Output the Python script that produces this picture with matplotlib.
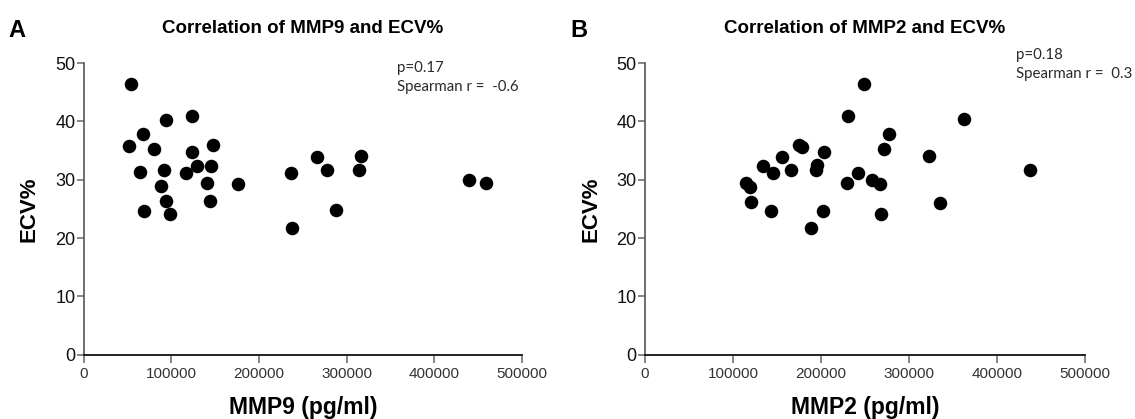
import matplotlib
matplotlib.use("Agg")
import matplotlib.pyplot as plt

plt.rcParams['font.family'] = ['Liberation Sans', 'DejaVu Sans']

# ---- data -------------------------------------------------------------
mmp9 = [53700, 93600, 124000, 68100, 51800, 80300, 124000, 147200,
        64700, 91700, 117100, 129300, 144900, 88300, 140400, 176100,
        94000, 143800, 69200, 98200, 236500, 238000, 265800, 277900,
        287800, 316300, 313700, 439800, 458500]
ecv_mmp9 = [46.5, 40.3, 41.0, 37.9, 35.8, 35.3, 34.8, 36.0,
            31.3, 31.6, 31.2, 32.4, 32.3, 28.9, 29.4, 29.3,
            26.3, 26.3, 24.6, 24.2, 31.1, 21.7, 33.9, 31.6,
            24.8, 34.0, 31.6, 29.9, 29.4]

mmp2 = [248900, 231000, 277600, 271900, 174700, 178800, 203400, 156000,
        134400, 145800, 165900, 195100, 194300, 241700, 229900, 258300,
        267000, 114800, 119300, 120500, 143500, 202300, 267800, 189000,
        323100, 335200, 362800, 437500]
ecv_mmp2 = [46.5, 41.0, 37.9, 35.3, 36.0, 35.7, 34.8, 33.9,
            32.3, 31.1, 31.6, 32.5, 31.6, 31.2, 29.4, 30.0,
            29.2, 29.5, 28.8, 26.2, 24.6, 24.7, 24.2, 21.7,
            34.0, 26.1, 40.4, 31.7]

x_ticks = [0, 100000, 200000, 300000, 400000, 500000]
y_ticks = [0, 10, 20, 30, 40, 50]

panels = [
    dict(letter="A", title="Correlation of MMP9 and ECV%", xlabel="MMP9 (pg/ml)",
         x=mmp9, y=ecv_mmp9, p="p=0.17", r="Spearman r =  -0.6"),
    dict(letter="B", title="Correlation of MMP2 and ECV%", xlabel="MMP2 (pg/ml)",
         x=mmp2, y=ecv_mmp2, p="p=0.18", r="Spearman r =  0.3"),
]

# ---- layout (pixels) -------------------------------------------------------
W, H = 1135, 419
fig = plt.figure(figsize=(W / 100, H / 100), dpi=100)

y_bottom_px, y_top_px = 354.7, 63.2
axes_x_px = [(83.6, 522.0), (645.0, 1085.0)]
letter_x_px = [8, 570]
note_px = [(397, 61), (1016, 48)]

for spec, (x0, x1), lx, (nx, ny) in zip(panels, axes_x_px, letter_x_px, note_px):
    ax = fig.add_axes([x0 / W, (H - y_bottom_px) / H,
                       (x1 - x0) / W, (y_bottom_px - y_top_px) / H])
    ax.scatter(spec["x"], spec["y"], s=95, color="black", linewidths=0,
               clip_on=False, zorder=3)
    ax.set_xlim(0, 500000)
    ax.set_ylim(0, 50)
    ax.set_xticks(x_ticks)
    ax.set_xticklabels([str(t) for t in x_ticks])
    ax.set_yticks(y_ticks)

    for side in ("top", "right"):
        ax.spines[side].set_visible(False)
    ax.spines["left"].set_color("#555555")
    ax.spines["left"].set_linewidth(1.2)
    ax.spines["bottom"].set_color("#111111")
    ax.spines["bottom"].set_linewidth(1.3)

    ax.tick_params(axis="x", length=6, width=1.1, color="#666666",
                   labelsize=11, labelcolor="#333333", pad=3)
    ax.tick_params(axis="y", length=5, width=1.1, color="#666666",
                   labelsize=13, labelcolor="#111111", pad=1)

    ax.set_xlabel(spec["xlabel"], fontsize=16.5, fontweight="bold")
    ax.xaxis.set_label_coords(0.5, -0.14)
    ax.set_ylabel("ECV%", fontsize=16, fontweight="bold")
    ax.yaxis.set_label_coords(-0.1, 0.5)

    cx = (x0 + x1) / 2
    fig.text(cx / W, 1 - 33 / H, spec["title"], ha="center", va="baseline",
             fontsize=13.5, fontweight="bold")
    fig.text(lx / W, 1 - 37 / H, spec["letter"], ha="left", va="baseline",
             fontsize=17, fontweight="bold")
    fig.text(nx / W, 1 - ny / H, spec["p"] + "\n" + spec["r"], ha="left", va="top",
             fontsize=10.8, family=["Lato", "DejaVu Sans"], color="#2a2a2a",
             linespacing=1.45)

fig.savefig("out.png", dpi=100)
